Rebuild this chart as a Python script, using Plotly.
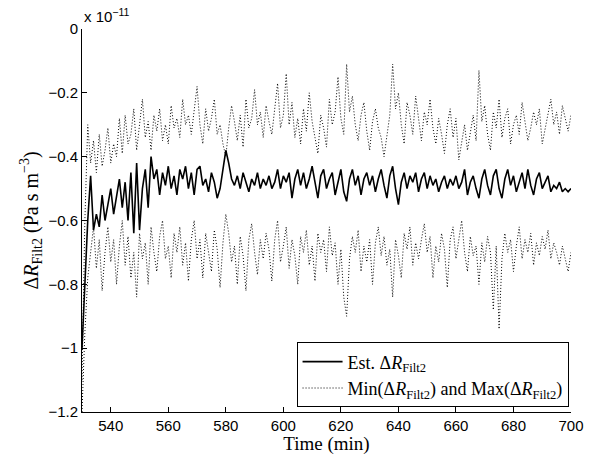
import plotly.graph_objects as go

time_min = list(range(530, 701))

est = [
    -1.00, -0.80, -0.60, -0.46, -0.63, -0.58, -0.62, -0.52, -0.60, -0.55,
    -0.50, -0.58, -0.52, -0.47, -0.56, -0.48, -0.60, -0.45, -0.64, -0.42,
    -0.63, -0.50, -0.44, -0.56, -0.40, -0.47, -0.44, -0.52, -0.45, -0.49,
    -0.43, -0.50, -0.46, -0.52, -0.44, -0.47, -0.43, -0.50, -0.45, -0.52,
    -0.44, -0.43, -0.49, -0.47, -0.51, -0.45, -0.48, -0.53, -0.50, -0.44,
    -0.38, -0.42, -0.47, -0.49, -0.46, -0.50, -0.45, -0.48, -0.51, -0.47,
    -0.49, -0.45, -0.50, -0.47, -0.49, -0.46, -0.50, -0.48, -0.44, -0.50,
    -0.46, -0.48, -0.45, -0.53, -0.47, -0.44, -0.49, -0.45, -0.50, -0.47,
    -0.43, -0.48, -0.53, -0.46, -0.44, -0.50, -0.47, -0.45, -0.52, -0.48,
    -0.44, -0.51, -0.54, -0.47, -0.44, -0.49, -0.46, -0.52, -0.47, -0.45,
    -0.49, -0.46, -0.51, -0.47, -0.44, -0.49, -0.53, -0.46, -0.43, -0.50,
    -0.55, -0.48, -0.45, -0.50, -0.46, -0.48, -0.45, -0.51, -0.47, -0.45,
    -0.50, -0.46, -0.49, -0.47, -0.51, -0.48, -0.46, -0.50, -0.47, -0.49,
    -0.46, -0.50, -0.48, -0.44, -0.52, -0.48, -0.46, -0.50, -0.53, -0.47,
    -0.44, -0.49, -0.52, -0.46, -0.44, -0.50, -0.53, -0.47, -0.44, -0.49,
    -0.46, -0.51, -0.48, -0.45, -0.50, -0.44, -0.49, -0.52, -0.47, -0.45,
    -0.50, -0.48, -0.46, -0.51, -0.49, -0.50, -0.48, -0.51, -0.50, -0.51,
    -0.50,
]

max_vals = [
    -1.10, -0.60, -0.30, -0.42, -0.35, -0.45, -0.33, -0.43, -0.38, -0.31,
    -0.42, -0.36, -0.40, -0.28, -0.39, -0.27, -0.36, -0.33, -0.25, -0.38,
    -0.30, -0.22, -0.34, -0.29, -0.38, -0.27, -0.32, -0.25, -0.35, -0.30,
    -0.36, -0.24, -0.31, -0.28, -0.34, -0.22, -0.30, -0.27, -0.33, -0.26,
    -0.18, -0.30, -0.36, -0.25, -0.32, -0.28, -0.22, -0.33, -0.30, -0.36,
    -0.40, -0.31, -0.24, -0.29, -0.35, -0.27, -0.37, -0.22, -0.31, -0.28,
    -0.19, -0.30, -0.26, -0.34, -0.24, -0.29, -0.33, -0.25, -0.17, -0.31,
    -0.27, -0.14, -0.30, -0.23, -0.34, -0.28, -0.36, -0.25, -0.32, -0.20,
    -0.29, -0.34, -0.39, -0.27, -0.31, -0.37, -0.22, -0.30, -0.26, -0.15,
    -0.28, -0.33, -0.11, -0.26, -0.21, -0.30, -0.35, -0.27, -0.23, -0.32,
    -0.38, -0.29, -0.25, -0.31, -0.34, -0.40, -0.33, -0.27, -0.11, -0.25,
    -0.20, -0.30, -0.36, -0.23, -0.27, -0.33, -0.21, -0.29, -0.35, -0.26,
    -0.30, -0.22, -0.31, -0.36, -0.28, -0.33, -0.39, -0.30, -0.25, -0.34,
    -0.28, -0.41, -0.35, -0.30, -0.38, -0.32, -0.27, -0.35, -0.13, -0.29,
    -0.24, -0.33, -0.38, -0.26, -0.31, -0.22, -0.34, -0.28, -0.25, -0.36,
    -0.30, -0.27, -0.33, -0.23, -0.29, -0.35, -0.31, -0.26, -0.30, -0.25,
    -0.36, -0.31, -0.27, -0.22, -0.30, -0.26, -0.33, -0.24, -0.28, -0.32,
    -0.27,
]

min_vals = [
    -1.20, -0.95, -0.78, -0.70, -0.62, -0.75, -0.66, -0.82, -0.70, -0.62,
    -0.73, -0.66, -0.80, -0.68, -0.60, -0.74, -0.65, -0.78, -0.70, -0.84,
    -0.64, -0.72, -0.67, -0.80, -0.62, -0.70, -0.76, -0.65, -0.60, -0.72,
    -0.68, -0.78, -0.64, -0.70, -0.62, -0.74, -0.67, -0.79, -0.66, -0.60,
    -0.72, -0.66, -0.78, -0.64, -0.70, -0.76, -0.63, -0.69, -0.81, -0.67,
    -0.58, -0.64, -0.73, -0.68, -0.80, -0.65, -0.71, -0.82, -0.66, -0.61,
    -0.70, -0.77, -0.66, -0.72, -0.64, -0.69, -0.79, -0.66, -0.60, -0.73,
    -0.68, -0.62, -0.75, -0.66, -0.71, -0.80, -0.65, -0.70, -0.63, -0.74,
    -0.68, -0.79, -0.64, -0.70, -0.66, -0.76, -0.62, -0.71, -0.67, -0.80,
    -0.69, -0.84, -0.90, -0.72, -0.65, -0.70, -0.63, -0.76, -0.68, -0.73,
    -0.66, -0.80, -0.67, -0.62, -0.71, -0.65, -0.74, -0.69, -0.84, -0.66,
    -0.71, -0.78, -0.64, -0.69, -0.62, -0.74, -0.67, -0.72, -0.66, -0.61,
    -0.70, -0.65, -0.78, -0.68, -0.73, -0.64, -0.69, -0.81, -0.66, -0.62,
    -0.72, -0.66, -0.60, -0.70, -0.76, -0.65, -0.71, -0.68, -0.80, -0.67,
    -0.73, -0.65, -0.70, -0.88, -0.68, -0.94, -0.72, -0.64, -0.70, -0.66,
    -0.76, -0.68, -0.62, -0.72, -0.66, -0.70, -0.64, -0.74, -0.67, -0.71,
    -0.65, -0.69, -0.63, -0.72, -0.67, -0.70, -0.74, -0.68, -0.72, -0.76,
    -0.70,
]

x_ticks = [540, 560, 580, 600, 620, 640, 660, 680, 700]
y_ticks = [0, -0.2, -0.4, -0.6, -0.8, -1, -1.2]

SANS = "Liberation Sans, Arial, sans-serif"
SERIF = "Liberation Serif, Times New Roman, serif"
DOT = "1px,2px"

fig = go.Figure()
fig.add_trace(go.Scatter(
    x=time_min, y=est, mode="lines",
    line=dict(color="black", width=1.6),
    name="Est. Δ<i>R</i><sub>Filt2</sub>",
))
fig.add_trace(go.Scatter(
    x=time_min, y=max_vals, mode="lines",
    line=dict(color="black", width=1, dash=DOT),
    name="Min(Δ<i>R</i><sub>Filt2</sub>) and Max(Δ<i>R</i><sub>Filt2</sub>)",
    legendgroup="mm",
))
fig.add_trace(go.Scatter(
    x=time_min, y=min_vals, mode="lines",
    line=dict(color="black", width=1, dash=DOT),
    name="min", legendgroup="mm", showlegend=False,
))

axis_common = dict(
    showline=True, linecolor="black", linewidth=1,
    ticks="inside", ticklen=5, tickcolor="black",
    showgrid=False, zeroline=False, mirror=False, automargin=False,
    tickfont=dict(family=SANS, size=15, color="black"),
)

fig.update_layout(
    width=595, height=455,
    margin=dict(l=82, r=24, t=29, b=43, autoexpand=False),
    paper_bgcolor="white", plot_bgcolor="white",
    xaxis=dict(range=[530, 700], tickvals=x_ticks, **axis_common),
    yaxis=dict(range=[-1.2, 0], tickvals=y_ticks, **axis_common),
    legend=dict(
        x=0.995, y=0.012, xanchor="right", yanchor="bottom",
        bordercolor="black", borderwidth=1, bgcolor="white",
        font=dict(family=SERIF, size=18, color="black"),
        tracegroupgap=0, itemwidth=40,
    ),
    showlegend=True,
)
fig.update_xaxes(title_text="Time (min)", title_standoff=0,
                 title_font=dict(family=SERIF, size=19, color="black"))
fig.update_yaxes(title_text="Δ<i>R</i><sub>Filt2</sub> (Pa s m<sup>−3</sup>)", title_standoff=4,
                 title_font=dict(family=SERIF, size=20, color="black"))

fig.add_annotation(
    x=0, y=1, xref="paper", yref="paper", xanchor="left", yanchor="bottom",
    text="x 10<sup>−11</sup>", showarrow=False, yshift=2,
    font=dict(family=SANS, size=15, color="black"),
)

fig.write_html("out.html", config={"displayModeBar": False},
               post_script="document.body.style.margin='0';")
